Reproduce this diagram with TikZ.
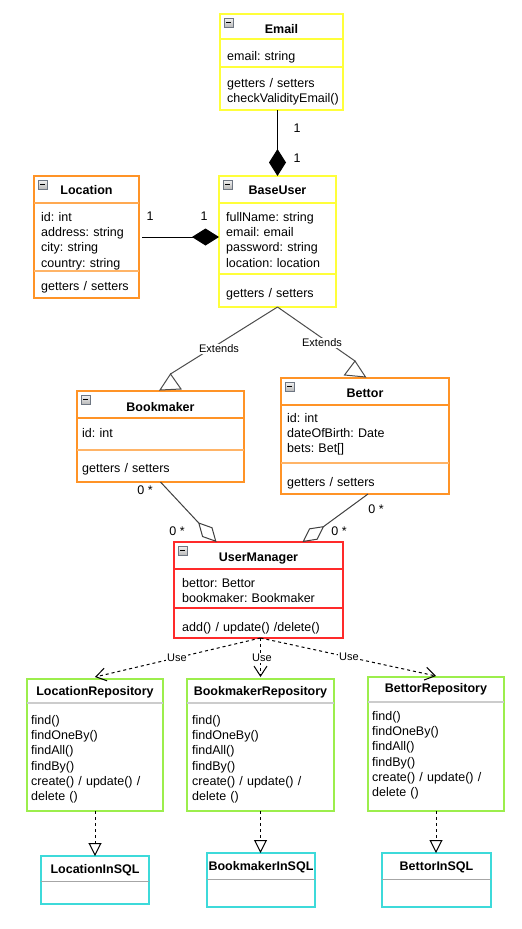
\documentclass[tikz,border=0pt]{standalone}
\usepackage{fontspec}
\setmainfont{Liberation Sans}
\frenchspacing
\usetikzlibrary{arrows.meta,calc}

\definecolor{umlyellow}{HTML}{FFFF3A}
\definecolor{umlorange}{HTML}{FF9326}
\definecolor{umlred}{HTML}{FF2A2A}
\definecolor{umlgreen}{HTML}{9CEE4C}
\definecolor{umlcyan}{HTML}{3DDADA}
\definecolor{icongrey}{HTML}{6E7682}

\tikzset{
  classbox/.style={draw, line width=1.2pt, anchor=north west, inner sep=0pt, outer sep=0pt},
  clstitle/.style={font=\fontsize{12.5}{15}\selectfont\bfseries, anchor=base, inner sep=0pt},
  members/.style={font=\fontsize{12.5}{15.2}\selectfont, align=left, text width=160pt, anchor=base west, inner sep=0pt},
  mult/.style={font=\fontsize{12.5}{15}\selectfont, inner sep=0pt},
  stereo/.style={font=\fontsize{11}{13}\selectfont, fill=white, inner sep=1pt},
  comp/.style={line width=1pt, -{Diamond[length=27pt,width=17pt]}},
  aggr/.style={line width=1pt, draw=black!75, -{Diamond[open,length=27pt,width=14pt]}},
  ext/.style={line width=1pt, draw=black!70},
  usedep/.style={line width=1pt, dash pattern=on 3pt off 3pt, -{Straight Barb[length=10pt,width=13pt]}},
  impl/.style={line width=1pt, dash pattern=on 3pt off 3pt, -{Triangle[open,length=13pt,width=13pt]}},
}

\newcommand\minusicon[1]{%
  \draw[icongrey, line width=0.6pt, top color=gray!10, bottom color=gray!55] ([shift={(4pt,-4pt)}]#1.north west) rectangle ++(9,9);
  \draw[line width=1.4pt] ([shift={(6pt,-8.5pt)}]#1.north west) -- ++(5,0);}
\newcommand\classrule[3]{%
  \draw[#1] ([yshift=-#3pt]#2.north west) -- ([yshift=-#3pt]#2.north east);}

\begin{document}
\begin{tikzpicture}[x=1pt,y=-1pt]
  \fill[white] (0,0) rectangle (522,929);
  \useasboundingbox (0,0) rectangle (522,929);

  % classes
  \node[classbox, draw=umlyellow, minimum width=123pt, minimum height=96pt] (email) at (220,14) {};
  \classrule{umlyellow, line width=1.2pt}{email}{25}
  \classrule{umlyellow, line width=1.2pt}{email}{53}
  \minusicon{email}
  \node[clstitle] (emailtitle) at ([yshift=-19pt]email.north) {Email};
  \node[members] (emailattr) at ([shift={(7pt,-46.5pt)}]email.north west) {email: string};
  \node[members] (emailops) at ([shift={(7pt,-73.5pt)}]email.north west) {getters / setters\\checkValidityEmail()};

  \node[classbox, draw=umlorange, minimum width=105pt, minimum height=122pt] (location) at (34,176) {};
  \classrule{umlorange!80, line width=1.2pt}{location}{27}
  \classrule{umlorange!70, line width=1.2pt}{location}{95}
  \minusicon{location}
  \node[clstitle] (locationtitle) at ([yshift=-18pt]location.north) {Location};
  \node[members] (locationattr) at ([shift={(7pt,-45.5pt)}]location.north west) {id: int\\address: string\\city: string\\country: string};
  \node[members] (locationops) at ([shift={(7pt,-114.5pt)}]location.north west) {getters / setters};

  \node[classbox, draw=umlyellow, minimum width=117pt, minimum height=131pt] (baseuser) at (219,176) {};
  \classrule{umlyellow, line width=1.2pt}{baseuser}{27}
  \classrule{umlyellow, line width=1.2pt}{baseuser}{98}
  \minusicon{baseuser}
  \node[clstitle] (baseusertitle) at ([yshift=-18pt]baseuser.north) {BaseUser};
  \node[members] (baseuserattr) at ([shift={(7pt,-45.5pt)}]baseuser.north west) {fullName: string\\email: email\\password: string\\location: location};
  \node[members] (baseuserops) at ([shift={(7pt,-121.5pt)}]baseuser.north west) {getters / setters};

  \node[classbox, draw=umlorange, minimum width=167pt, minimum height=91pt] (bookmaker) at (77,391) {};
  \classrule{umlorange, line width=1.2pt}{bookmaker}{27}
  \classrule{umlorange!70, line width=1.2pt}{bookmaker}{59}
  \minusicon{bookmaker}
  \node[clstitle] (bookmakertitle) at ([yshift=-20pt]bookmaker.north) {Bookmaker};
  \node[members] (bookmakerattr) at ([shift={(5pt,-46.5pt)}]bookmaker.north west) {id: int};
  \node[members] (bookmakerops) at ([shift={(5pt,-81.5pt)}]bookmaker.north west) {getters / setters};

  \node[classbox, draw=umlorange, minimum width=168pt, minimum height=116pt] (bettor) at (281,378) {};
  \classrule{umlorange, line width=1.2pt}{bettor}{27}
  \classrule{umlorange!70, line width=1.2pt}{bettor}{85}
  \minusicon{bettor}
  \node[clstitle] (bettortitle) at ([yshift=-19pt]bettor.north) {Bettor};
  \node[members] (bettorattr) at ([shift={(6pt,-44.5pt)}]bettor.north west) {id: int\\dateOfBirth: Date\\bets: Bet[]};
  \node[members] (bettorops) at ([shift={(6pt,-108.5pt)}]bettor.north west) {getters / setters};

  \node[classbox, draw=umlred, minimum width=169pt, minimum height=96pt] (usermanager) at (174,542) {};
  \classrule{umlred, line width=1.2pt}{usermanager}{27}
  \classrule{umlred, line width=1.2pt}{usermanager}{66}
  \minusicon{usermanager}
  \node[clstitle] (usermanagertitle) at ([yshift=-19pt]usermanager.north) {UserManager};
  \node[members] (usermanagerattr) at ([shift={(8pt,-45.5pt)}]usermanager.north west) {bettor: Bettor\\bookmaker: Bookmaker};
  \node[members] (usermanagerops) at ([shift={(8pt,-89.5pt)}]usermanager.north west) {add() / update() /delete()};

  % repositories
  \node[classbox, draw=umlgreen, minimum width=136pt, minimum height=132pt] (locrepo) at (27,679) {};
  \node[classbox, draw=umlgreen, minimum width=147pt, minimum height=132pt] (bkrepo) at (187,679) {};
  \node[classbox, draw=umlgreen, minimum width=136pt, minimum height=134pt] (btrepo) at (368,677) {};
  \classrule{gray!40, line width=2pt}{locrepo}{24}
  \classrule{gray!40, line width=2pt}{bkrepo}{24}
  \classrule{gray!40, line width=2pt}{btrepo}{25}
  \node[clstitle] (locrepotitle) at ([yshift=-16pt]locrepo.north) {LocationRepository};
  \node[clstitle] (bkrepotitle) at ([yshift=-16pt]bkrepo.north) {BookmakerRepository};
  \node[clstitle] (btrepotitle) at ([yshift=-15pt]btrepo.north) {BettorRepository};
  \node[members] (locrepoops) at ([shift={(4pt,-45.5pt)}]locrepo.north west) {find()\\findOneBy()\\findAll()\\findBy()\\create() / update() /\\delete ()};
  \node[members] (bkrepoops) at ([shift={(5pt,-45.5pt)}]bkrepo.north west) {find()\\findOneBy()\\findAll()\\findBy()\\create() / update() /\\delete ()};
  \node[members] (btrepoops) at ([shift={(4pt,-43.5pt)}]btrepo.north west) {find()\\findOneBy()\\findAll()\\findBy()\\create() / update() /\\delete ()};

  % sql
  \node[classbox, draw=umlcyan, minimum width=108pt, minimum height=48pt] (locsql) at (41,856) {};
  \node[classbox, draw=umlcyan, minimum width=108pt, minimum height=54pt] (bksql) at (207,853) {};
  \node[classbox, draw=umlcyan, minimum width=109pt, minimum height=54pt] (btsql) at (382,853) {};
  \classrule{gray!70, line width=1pt}{locsql}{25}
  \classrule{gray!70, line width=1pt}{bksql}{26}
  \classrule{gray!70, line width=1pt}{btsql}{26}
  \node[clstitle] (locsqltitle) at ([yshift=-17pt]locsql.north) {LocationInSQL};
  \node[clstitle] (bksqltitle) at ([yshift=-17pt]bksql.north) {BookmakerInSQL};
  \node[clstitle] (btsqltitle) at ([yshift=-17pt]btsql.north) {BettorInSQL};

  % composition
  \draw[comp] (baseuser.north |- email.south) -- (baseuser.north);
  \draw[comp] ([xshift=3pt]location.east) -- (location.east -| baseuser.west);
  \node[mult] (m1) at (297,128) {1};
  \node[mult] (m2) at (297,158) {1};
  \node[mult] (m3) at (150,216) {1};
  \node[mult] (m4) at (204,216) {1};

  % extends
  \coordinate (bmapex) at ([xshift=10pt,yshift=17pt]bookmaker.north);
  \coordinate (btapex) at ([xshift=-10pt,yshift=17pt]bettor.north);
  \draw[ext] (baseuser.south) -- (bmapex);
  \draw[ext] (baseuser.south) -- (btapex);
  \draw[ext, fill=white] (bmapex) -- ++(-10.5,16) -- ++(21,-1) -- cycle;
  \draw[ext, fill=white] (btapex) -- ++(-10.5,14) -- ++(21,2) -- cycle;
  \node[stereo] (ext1) at (219,349) {Extends};
  \node[stereo] (ext2) at (322,343) {Extends};

  % aggregation
  \draw[aggr] (bookmaker.south) -- ([xshift=-42pt]usermanager.north);
  \draw[aggr] ([xshift=3pt]bettor.south) -- ([xshift=44pt]usermanager.north);
  \node[mult] (m5) at (145,490) {0 *};
  \node[mult] (m6) at (177,531) {0 *};
  \node[mult] (m7) at (376,509) {0 *};
  \node[mult] (m8) at (339,531) {0 *};

  % use
  \coordinate (usefrom) at ([xshift=2pt]usermanager.south);
  \draw[usedep] (usefrom) -- ([yshift=2pt]locrepo.north);
  \draw[usedep] (usefrom) -- ([yshift=2pt]bkrepo.north);
  \draw[usedep] (usefrom) -- ([yshift=1pt]btrepo.north);
  \node[stereo] (use1) at (177,658) {Use};
  \node[stereo] (use2) at (262,658) {Use};
  \node[stereo] (use3) at (349,657) {Use};

  % implementation
  \draw[impl] (locrepo.south) -- (locrepo.south |- locsql.north);
  \draw[impl] (bkrepo.south) -- (bkrepo.south |- bksql.north);
  \draw[impl] (btrepo.south) -- (btrepo.south |- btsql.north);
\end{tikzpicture}
\end{document}
